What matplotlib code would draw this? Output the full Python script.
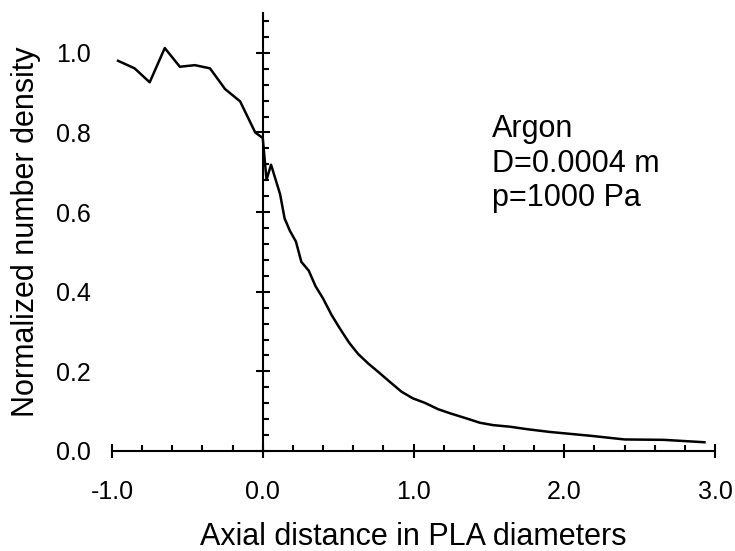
import matplotlib
matplotlib.use("Agg")
import matplotlib.pyplot as plt
from matplotlib.ticker import MultipleLocator, FormatStrFormatter

plt.rcParams['font.family'] = ['Liberation Sans', 'DejaVu Sans']
plt.rcParams['axes.unicode_minus'] = False

# Data
axial_distance = [-0.96, -0.85, -0.75, -0.65, -0.55, -0.45, -0.35, -0.25, -0.15, -0.05,
                  0.0, 0.025, 0.055, 0.115, 0.145, 0.18, 0.22, 0.256, 0.305, 0.35,
                  0.40, 0.456, 0.511, 0.573, 0.632, 0.699, 0.765, 0.842, 0.92, 0.997,
                  1.075, 1.163, 1.24, 1.35, 1.44, 1.528, 1.64, 1.75, 1.90, 2.18,
                  2.40, 2.66, 2.93]
number_density = [0.98, 0.961, 0.926, 1.012, 0.965, 0.969, 0.961, 0.909, 0.878, 0.80,
                  0.786, 0.681, 0.719, 0.645, 0.584, 0.553, 0.526, 0.475, 0.453, 0.414,
                  0.383, 0.342, 0.308, 0.272, 0.244, 0.220, 0.199, 0.174, 0.149, 0.132,
                  0.121, 0.105, 0.095, 0.082, 0.071, 0.065, 0.061, 0.055, 0.048, 0.038,
                  0.029, 0.028, 0.022]
annotation_lines = ["Argon", "D=0.0004 m", "p=1000 Pa"]
x_label = "Axial distance in PLA diameters"
y_label = "Normalized number density"

fig = plt.figure(figsize=(7.35, 5.51), dpi=100)
ax = fig.add_axes([112/735, 100/551, 603/735, 438/551])

ax.plot(axial_distance, number_density, color='black', lw=1.8, clip_on=False)

ax.set_xlim(-1.0, 3.0)
ax.set_ylim(0.0, 1.1)

ax.spines['top'].set_visible(False)
ax.spines['left'].set_visible(False)
ax.spines['right'].set_position(('data', 0))
for s in ('bottom', 'right'):
    ax.spines[s].set_linewidth(1.5)

ax.xaxis.set_major_locator(MultipleLocator(1.0))
ax.xaxis.set_minor_locator(MultipleLocator(0.2))
ax.yaxis.set_major_locator(MultipleLocator(0.2))
ax.yaxis.set_minor_locator(MultipleLocator(0.04))
ax.xaxis.set_major_formatter(FormatStrFormatter('%.1f'))
ax.yaxis.set_major_formatter(FormatStrFormatter('%.1f'))

ax.tick_params(axis='x', which='major', direction='inout', length=10, width=1.5,
               labelsize=18, pad=16, top=False)
ax.tick_params(axis='x', which='minor', direction='in', length=4, width=1.5, top=False)
ax.tick_params(axis='y', which='major', direction='inout', length=10, width=1.5,
               labelsize=18, pad=10, left=False, right=True, labelleft=True, labelright=False)
ax.tick_params(axis='y', which='minor', direction='out', length=4, width=1.5,
               left=False, right=True)

ax.set_xlabel(x_label, fontsize=22)
ax.set_ylabel(y_label, fontsize=22)
ax.xaxis.set_label_coords(0.5, -0.161)
ax.yaxis.set_label_coords(-0.118, 0.5)

ann_y = [0.789, 0.700, 0.615]
for line, yy in zip(annotation_lines, ann_y):
    ax.text(1.52, yy, line, fontsize=22, va='baseline', ha='left')

fig.savefig('out.png', dpi=100)
